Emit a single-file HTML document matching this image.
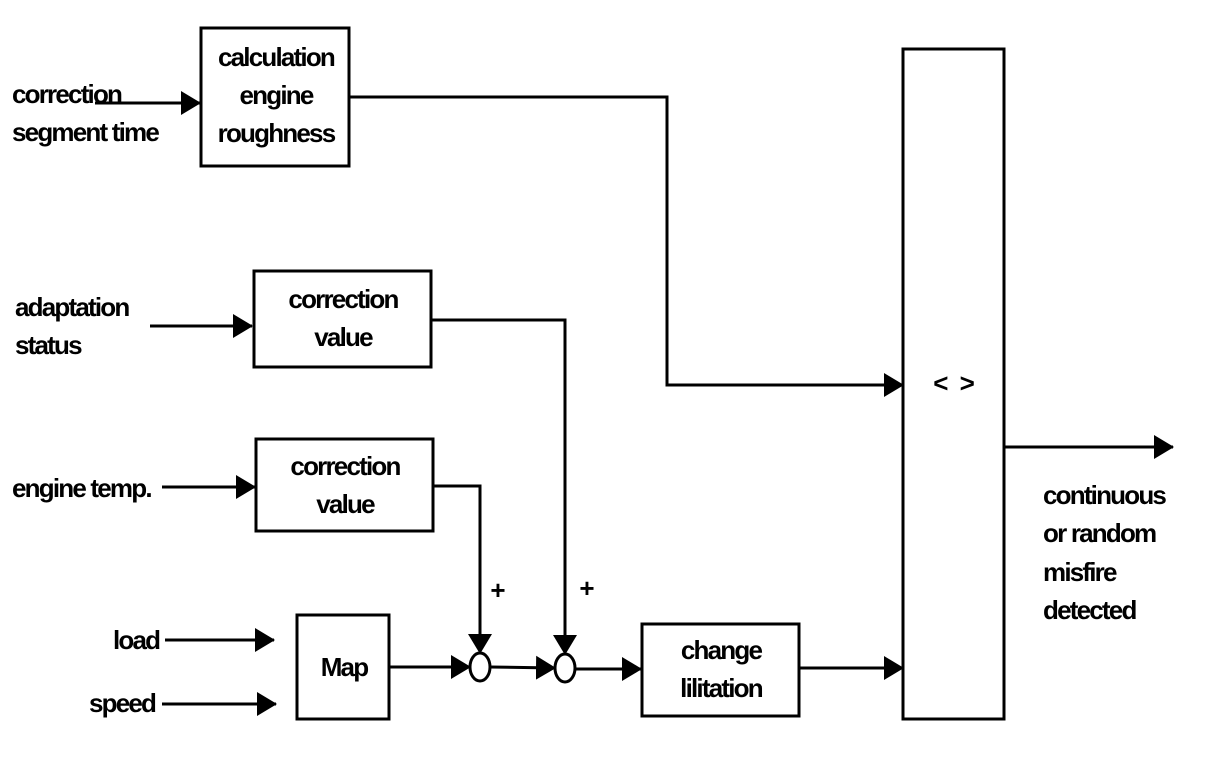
<!DOCTYPE html>
<html><head><meta charset="utf-8"><style>
html,body{margin:0;padding:0;background:#fff;}
svg{display:block;}
text{font-family:"Liberation Sans",Arial,sans-serif;font-weight:bold;font-size:26px;letter-spacing:-1.8px;fill:#000;}
</style></head><body>
<svg width="1216" height="762" viewBox="0 0 1216 762" xmlns="http://www.w3.org/2000/svg">
<defs><marker id="a" markerWidth="20" markerHeight="24" refX="19" refY="12" orient="auto" markerUnits="userSpaceOnUse"><path d="M0,0 L20,12 L0,24 Z" fill="#000"/></marker></defs>
<g fill="none" stroke="#000" stroke-width="3">
<rect x="201" y="28" width="148" height="138"/>
<rect x="254" y="271" width="177" height="96"/>
<rect x="256" y="439" width="177" height="92"/>
<rect x="297" y="615" width="92" height="104"/>
<rect x="642" y="624" width="157" height="92"/>
<rect x="903" y="49" width="101" height="670"/>
<ellipse cx="480" cy="667" rx="10" ry="14"/>
<ellipse cx="565" cy="668" rx="10" ry="14"/>
<g marker-end="url(#a)">
<polyline points="349,97 667,97 667,385 903,385"/>
<polyline points="431,320 565,320 565,654"/>
<polyline points="433,486 480,486 480,653"/>
<line x1="389" y1="667" x2="470" y2="667"/>
<line x1="490" y1="667" x2="555" y2="668"/>
<line x1="575" y1="669" x2="641" y2="669"/>
<line x1="799" y1="668" x2="903" y2="668"/>
<line x1="1004" y1="447" x2="1173" y2="447"/>
<line x1="95" y1="103" x2="200" y2="103"/>
<line x1="150" y1="326" x2="252" y2="326"/>
<line x1="162" y1="487" x2="255" y2="487"/>
<line x1="165" y1="640" x2="274" y2="640"/>
<line x1="162" y1="704" x2="276" y2="704"/>
</g></g>
<text x="276" y="66" text-anchor="middle">calculation</text>
<text x="276" y="104" text-anchor="middle">engine</text>
<text x="276" y="142" text-anchor="middle">roughness</text>
<text x="12" y="103">correction</text>
<text x="12" y="141">segment time</text>
<text x="15" y="316">adaptation</text>
<text x="15" y="354">status</text>
<text x="12" y="497">engine temp.</text>
<text x="113" y="649">load</text>
<text x="89" y="712">speed</text>
<text x="343" y="308" text-anchor="middle">correction</text>
<text x="343" y="346" text-anchor="middle">value</text>
<text x="345" y="475" text-anchor="middle">correction</text>
<text x="345" y="513" text-anchor="middle">value</text>
<text x="344" y="676" text-anchor="middle">Map</text>
<text x="721" y="659" text-anchor="middle">change</text>
<text x="721" y="697" text-anchor="middle">lilitation</text>
<text x="498" y="599" text-anchor="middle" style="letter-spacing:0">+</text>
<text x="587" y="597" text-anchor="middle" style="letter-spacing:0">+</text>
<text x="955" y="392" text-anchor="middle" style="letter-spacing:2px">&lt; &gt;</text>
<text x="1043" y="504">continuous</text>
<text x="1043" y="542">or random</text>
<text x="1043" y="581">misfire</text>
<text x="1043" y="619">detected</text>
</svg>
</body></html>
